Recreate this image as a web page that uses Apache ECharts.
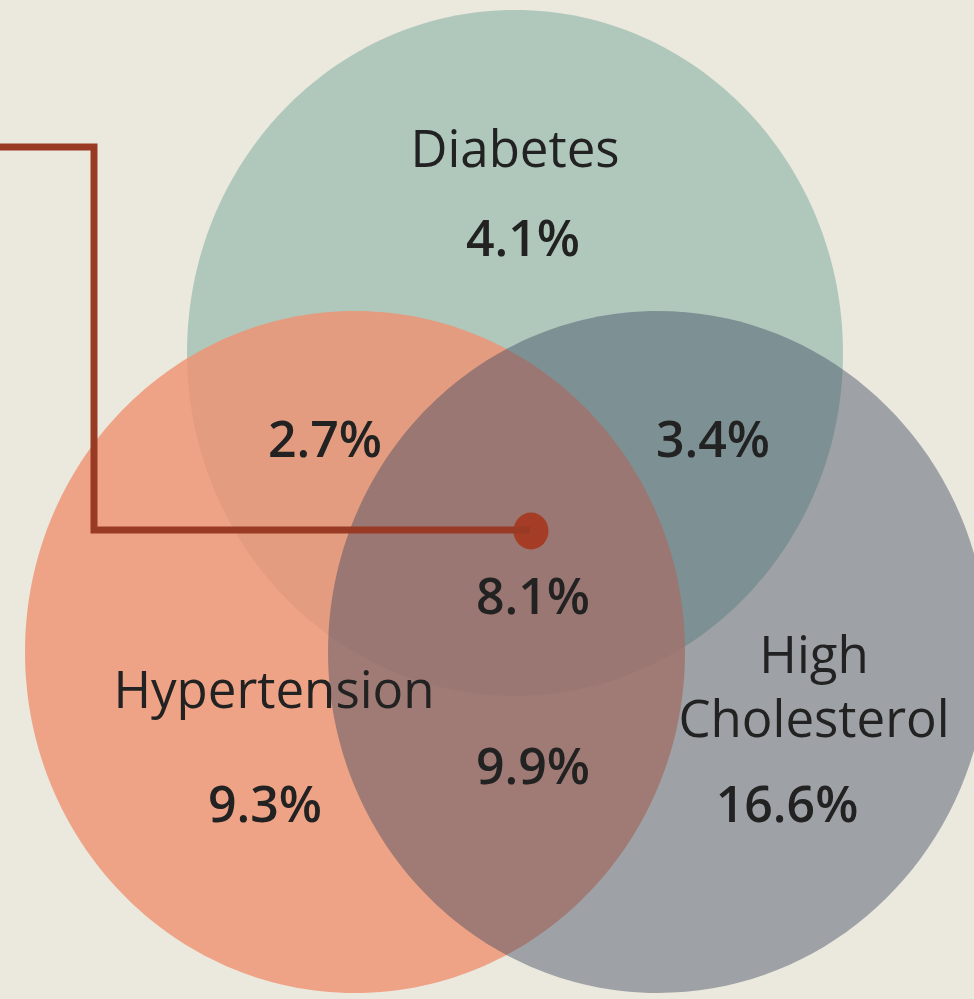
<!DOCTYPE html>
<html>
<head>
<meta charset="utf-8">
<script src="https://cdn.jsdelivr.net/npm/echarts@6/dist/echarts.min.js"></script>
<style>
  html, body { margin: 0; padding: 0; background: #ebe8dd; }
  #chart { width: 974px; height: 999px; }
</style>
</head>
<body>
<div id="chart"></div>
<script>
// Share of patients (%) in each region of the three-condition Venn diagram
const setNames = ['Diabetes', 'Hypertension', 'High\nCholesterol'];
const setOnlyValues = [4.1, 9.3, 16.6];
const pairNames = ['Diabetes & Hypertension', 'Diabetes & High Cholesterol', 'Hypertension & High Cholesterol'];
const pairValues = [2.7, 3.4, 9.9];
const allThreeName = 'All three';
const allThreeValue = 8.1;

// ---- layout (axis units = pixels) ----
const circleLayout = [
  { cx: 515, cy: 353, rx: 328, ry: 343 },   // Diabetes
  { cx: 355, cy: 652, rx: 330, ry: 341 },   // Hypertension
  { cx: 658, cy: 652, rx: 330, ry: 341 }    // High Cholesterol
];
const circleFill = ['#b0c8bc', '#f09171', '#404c62'];
const circleOpacity = [1, 0.8, 0.45];

const setNamePos = [[515, 152], [274, 693], [814, 690]];
const setValuePos = [[523, 242], [265, 808], [787, 808]];
const pairValuePos = [[325, 443], [713, 443], [533, 770]];
const allThreePos = [533, 600];

const connectorPath = [[0, 147], [94, 147], [94, 530], [530, 530]];
const connectorDot = [531, 531];

const fmt = v => v.toFixed(1) + '%';

// text items: [x, y, text, kind]
const textItems = [];
setNames.forEach((n, i) => textItems.push([setNamePos[i][0], setNamePos[i][1], n, 'name']));
setOnlyValues.forEach((v, i) => textItems.push([setValuePos[i][0], setValuePos[i][1], fmt(v), 'value']));
pairValues.forEach((v, i) => textItems.push([pairValuePos[i][0], pairValuePos[i][1], fmt(v), 'value']));
textItems.push([allThreePos[0], allThreePos[1], fmt(allThreeValue), 'value']);

const FONT = '"Open Sans", "Noto Sans", sans-serif';

const chart = echarts.init(document.getElementById('chart'), null, { renderer: 'canvas' });
chart.setOption({
  backgroundColor: '#ebe8dd',
  animation: false,
  grid: { left: 0, right: 0, top: 0, bottom: 0 },
  xAxis: { type: 'value', min: 0, max: 974, show: false },
  yAxis: { type: 'value', min: 0, max: 999, inverse: true, show: false },
  series: [
    {
      name: 'sets',
      type: 'custom',
      coordinateSystem: 'cartesian2d',
      silent: true,
      clip: false,
      data: circleLayout.map(c => [c.cx, c.cy, c.rx, c.ry]),
      renderItem: (params, api) => {
        const c = api.coord([api.value(0), api.value(1)]);
        const s = api.size([api.value(2), api.value(3)]);
        return {
          type: 'ellipse',
          shape: { cx: c[0], cy: c[1], rx: s[0], ry: s[1] },
          style: { fill: circleFill[params.dataIndex], opacity: circleOpacity[params.dataIndex] }
        };
      }
    },
    {
      name: 'connector',
      type: 'line',
      data: connectorPath,
      showSymbol: false,
      silent: true,
      lineStyle: { color: '#993a25', width: 7, join: 'miter', cap: 'butt' }
    },
    {
      name: 'dot',
      type: 'scatter',
      data: [connectorDot],
      symbol: 'circle',
      symbolSize: [35, 37],
      silent: true,
      itemStyle: { color: '#a53c26', opacity: 1 }
    },
    {
      name: 'labels',
      type: 'custom',
      coordinateSystem: 'cartesian2d',
      silent: true,
      clip: false,
      data: textItems,
      renderItem: (params, api) => {
        const item = textItems[params.dataIndex];
        const p = api.coord([item[0], item[1]]);
        const isName = item[3] === 'name';
        return {
          type: 'text',
          x: p[0],
          y: p[1],
          style: {
            text: item[2],
            fill: '#222222',
            font: (isName ? '400 51px ' : '600 50px ') + FONT,
            lineHeight: 64,
            align: 'center',
            verticalAlign: 'middle'
          }
        };
      }
    }
  ]
});
</script>
</body>
</html>
